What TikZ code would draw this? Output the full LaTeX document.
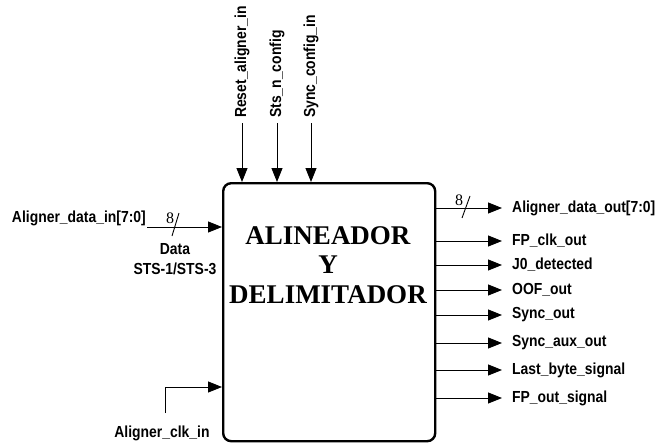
\documentclass[tikz,border=0pt]{standalone}
\usepackage{fontspec}
\usetikzlibrary{arrows.meta}
\newfontfamily\labfont{Liberation Sans}[FakeStretch=0.87]
\newfontfamily\serfont{Liberation Serif}
\begin{document}
\begin{tikzpicture}[x=1pt,y=-1pt,
  lab/.style={font=\labfont\bfseries\fontsize{16}{20}\selectfont, inner sep=0pt},
  ttl/.style={font=\serfont\bfseries\fontsize{27}{30}\selectfont, inner sep=0pt, anchor=base},
  num/.style={font=\serfont\fontsize{16}{18}\selectfont, inner sep=0pt},
  wire/.style={line width=0.9pt, -{Triangle[length=14pt,width=11pt]}},
  busmark/.style={line width=0.9pt}]
\useasboundingbox (0,0) rectangle (659,444);

% main block
\node[draw, line width=2.4pt, rounded corners=8pt, minimum width=212pt, minimum height=258pt,
      inner sep=0pt, anchor=north west] (blk) at (222,182) {};
\node[ttl] (t1) at (328,244) {ALINEADOR};
\node[ttl] (t2) at (328,273) {Y};
\node[ttl] (t3) at (328,303) {DELIMITADOR};

% top inputs
\foreach \nm/\x/\txt in {rst/242/Reset\_aligner\_in, sts/277/Sts\_n\_config, syn/311/Sync\_config\_in}{
  \coordinate (\nm) at (\x,123);
  \node[lab, rotate=90, anchor=west] (\nm l) at (\x,118) {\txt};
  \draw[wire] (\nm) -- (blk.north -| \nm);
}

% data input
\coordinate (din) at (147,227);
\node[lab, anchor=base east] (dinl) at (146,222) {Aligner\_data\_in[7:0]};
\draw[wire] (din) -- (blk.west |- din);
\coordinate (s1a) at (179,213);
\coordinate (s1b) at (172,236);
\draw[busmark] (s1a) -- (s1b);
\node[num, anchor=base] (n1) at (170,223) {8};
\node[lab, align=center, anchor=north] (dlab) at (175,243) {Data\\STS-1/STS-3};

% clock input
\coordinate (clk) at (165,413);
\coordinate (clkc) at (165,387);
\draw[wire] (clk) -- (clkc) -- (blk.west |- clkc);
\node[lab, anchor=base] (clkl) at (162,437) {Aligner\_clk\_in};

% outputs
\foreach \nm/\y/\txt in {o1/208/Aligner\_data\_out[7:0], o2/241/FP\_clk\_out, o3/265/J0\_detected,
  o4/290/OOF\_out, o5/315/Sync\_out, o6/343/Sync\_aux\_out, o7/370/Last\_byte\_signal, o8/398/FP\_out\_signal}{
  \coordinate (\nm) at (502,\y);
  \draw[wire] (blk.east |- \nm) -- (\nm);
  \node[lab, anchor=west] (\nm l) at (512,\y) {\txt};
}
\coordinate (s2a) at (470,196);
\coordinate (s2b) at (462,218);
\draw[busmark] (s2a) -- (s2b);
\node[num, anchor=base] (n2) at (459,205) {8};
\end{tikzpicture}
\end{document}
